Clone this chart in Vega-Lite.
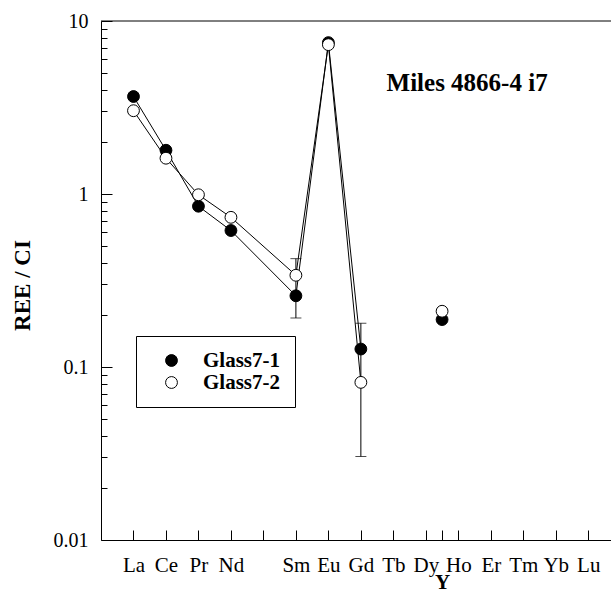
{
  "$schema": "https://vega.github.io/schema/vega-lite/v6.json",
  "width": 510,
  "height": 519,
  "autosize": "none",
  "padding": {"left": 101, "top": 21, "right": 0, "bottom": 49},
  "background": "white",
  "config": {"font": "Liberation Serif", "view": {"stroke": null}},
  "datasets": {
    "pts": [
      {"series": "Glass7-1", "el": "La", "pos": 1, "value": 3.66},
      {"series": "Glass7-1", "el": "Ce", "pos": 2, "value": 1.79},
      {"series": "Glass7-1", "el": "Pr", "pos": 3, "value": 0.85},
      {"series": "Glass7-1", "el": "Nd", "pos": 4, "value": 0.615},
      {"series": "Glass7-1", "el": "Sm", "pos": 6, "value": 0.258},
      {"series": "Glass7-1", "el": "Eu", "pos": 7, "value": 7.5},
      {"series": "Glass7-1", "el": "Gd", "pos": 8, "value": 0.127},
      {"series": "Glass7-1", "el": "Y", "pos": 10.5, "value": 0.188},
      {"series": "Glass7-2", "el": "La", "pos": 1, "value": 3.03},
      {"series": "Glass7-2", "el": "Ce", "pos": 2, "value": 1.61},
      {"series": "Glass7-2", "el": "Pr", "pos": 3, "value": 0.99},
      {"series": "Glass7-2", "el": "Nd", "pos": 4, "value": 0.733},
      {"series": "Glass7-2", "el": "Sm", "pos": 6, "value": 0.339},
      {"series": "Glass7-2", "el": "Eu", "pos": 7, "value": 7.3},
      {"series": "Glass7-2", "el": "Gd", "pos": 8, "value": 0.0815},
      {"series": "Glass7-2", "el": "Y", "pos": 10.5, "value": 0.21}
    ],
    "err": [
      {"el": "Sm", "pos": 6, "value": 0.192, "hi": 0.423},
      {"el": "Gd", "pos": 8, "value": 0.0304, "hi": 0.179}
    ],
    "ann": [{"pos": 11.27, "value": 4.4, "t": "Miles 4866-4 i7"}],
    "frame": [{"pos": 0, "value": 10}]
  },
  "encoding": {
    "x": {
      "field": "pos",
      "type": "quantitative",
      "scale": {"domain": [0, 15.7], "nice": false, "zero": false},
      "axis": {
        "values": [1, 2, 3, 4, 5, 6, 7, 8, 9, 10, 10.5, 11, 12, 13, 14, 15],
        "labelExpr": "datum.value == 10.5 ? 'Y' : ['','La','Ce','Pr','Nd','','Sm','Eu','Gd','Tb','Dy','Ho','Er','Tm','Yb','Lu'][datum.value]",
        "tickSize": -10,
        "tickColor": "black",
        "domainColor": "black",
        "labelColor": "black",
        "labelFontSize": 21,
        "labelFontWeight": {"condition": {"test": "datum.value == 10.5", "value": "bold"}, "value": "normal"},
        "labelPadding": {"condition": {"test": "datum.value == 10.5", "value": 41}, "value": 24},
        "labelBaseline": "top",
        "labelOverlap": false,
        "labelBound": false,
        "labelFlush": false,
        "grid": false,
        "title": null
      }
    },
    "y": {
      "field": "value",
      "type": "quantitative",
      "scale": {"type": "log", "domain": [0.01, 10], "nice": false},
      "axis": {
        "values": [0.01, 0.02, 0.03, 0.04, 0.05, 0.06, 0.07, 0.08, 0.09, 0.1, 0.2, 0.3, 0.4, 0.5, 0.6, 0.7, 0.8, 0.9, 1, 2, 3, 4, 5, 6, 7, 8, 9, 10],
        "format": "~g",
        "labelExpr": "abs(log(datum.value)/LN10 - round(log(datum.value)/LN10)) < 0.001 ? datum.label : ''",
        "tickSize": {"condition": {"test": "abs(log(datum.value)/LN10 - round(log(datum.value)/LN10)) < 0.001", "value": -11}, "value": -6},
        "tickColor": "black",
        "domainColor": "black",
        "labelColor": "black",
        "labelFontSize": 20,
        "labelPadding": 24,
        "labelOverlap": false,
        "labelBound": false,
        "labelFlush": false,
        "grid": false,
        "title": "REE / CI",
        "titleFontSize": 23,
        "titleFontWeight": "bold",
        "titleColor": "black",
        "titleX": -79,
        "titleY": 264,
        "titleAngle": -90,
        "titleAlign": "center",
        "titleBaseline": "middle"
      }
    }
  },
  "layer": [
    {
      "data": {"name": "frame"},
      "mark": {"type": "rule", "color": "black", "strokeWidth": 1},
      "encoding": {"x": {"value": 0}, "x2": {"value": "width"}}
    },
    {
      "data": {"name": "pts"},
      "transform": [{"filter": "datum.el != 'Y'"}],
      "mark": {"type": "line", "color": "black", "strokeWidth": 1},
      "encoding": {"detail": {"field": "series"}, "order": {"field": "pos"}}
    },
    {
      "data": {"name": "err"},
      "mark": {"type": "errorbar", "color": "black", "ticks": {"size": 11}},
      "encoding": {"y2": {"field": "hi"}}
    },
    {
      "data": {"name": "pts"},
      "mark": {"type": "circle", "stroke": "black", "strokeWidth": 1, "opacity": 1, "size": 140},
      "encoding": {
        "fill": {
          "field": "series",
          "type": "nominal",
          "scale": {"domain": ["Glass7-1", "Glass7-2"], "range": ["black", "white"]},
          "legend": {
            "orient": "none",
            "legendX": 35,
            "legendY": 315,
            "title": null,
            "strokeColor": "black",
            "fillColor": "white",
            "padding": 14,
            "symbolOffset": 11,
            "labelOffset": 21,
            "labelFontSize": 21,
            "labelFontWeight": "bold",
            "labelColor": "black",
            "labelExpr": "datum.label + '\u00a0\u00a0\u00a0\u00a0\u00a0'",
            "symbolType": "circle",
            "symbolSize": 140,
            "symbolStrokeColor": "black",
            "symbolStrokeWidth": 1,
            "symbolOpacity": 1,
            "rowPadding": 0
          }
        }
      }
    },
    {
      "data": {"name": "ann"},
      "mark": {"type": "text", "fontSize": 25, "fontWeight": "bold", "color": "black", "align": "center", "baseline": "middle"},
      "encoding": {"text": {"field": "t"}}
    }
  ]
}
